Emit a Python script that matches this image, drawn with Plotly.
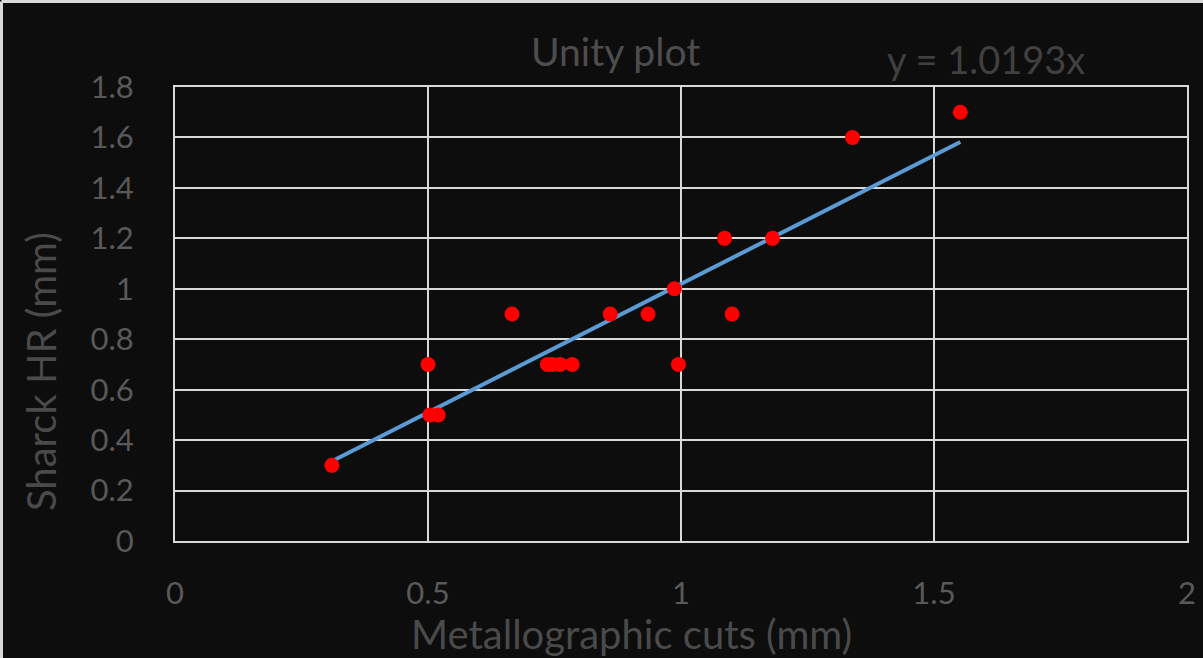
import plotly.graph_objects as go

# Paired thickness measurements (mm)
metallographic = [0.31, 0.50, 0.504, 0.52, 0.666, 0.736, 0.745, 0.761, 0.785,
                  0.860, 0.935, 0.987, 0.995, 1.086, 1.101, 1.181, 1.339, 1.552]
sharck_hr = [0.3, 0.7, 0.5, 0.5, 0.9, 0.7, 0.7, 0.7, 0.7,
             0.9, 0.9, 1.0, 0.7, 1.2, 0.9, 1.2, 1.6, 1.7]

# Zero-intercept linear fit reported on the chart
slope = 1.0193
fit_label = "y = 1.0193x"

x_ticks = [0, 0.5, 1, 1.5, 2]
y_ticks = [0, 0.2, 0.4, 0.6, 0.8, 1, 1.2, 1.4, 1.6, 1.8]

W, H = 1203, 658
ML, MR, MT, MB = 175, 16, 87, 117
PW, PH = W - ML - MR, H - MT - MB


def px(x):
    return (x - ML) / PW


def py(y):
    return (H - MB - y) / PH


bg = "#0d0d0d"
grid = "#d9d9d9"
font_family = "Lato, 'Open Sans', sans-serif"

fit_x = [min(metallographic), max(metallographic)]
fit_y = [slope * v for v in fit_x]

fig = go.Figure()
fig.add_trace(go.Scatter(
    x=fit_x, y=fit_y, mode="lines",
    line=dict(color="#5b9bd5", width=4),
    hoverinfo="skip", showlegend=False,
))
fig.add_trace(go.Scatter(
    x=metallographic, y=sharck_hr, mode="markers",
    marker=dict(color="#ff0000", size=15, line=dict(width=0)),
    showlegend=False,
))

axis_common = dict(
    showgrid=True, gridcolor=grid, gridwidth=2,
    showline=True, linecolor=grid, linewidth=2, mirror=True,
    zeroline=False, ticks="outside", tickcolor="rgba(0,0,0,0)",
    tickfont=dict(family=font_family, size=31, color="#595959"),
    automargin=False,
)

fig.update_xaxes(range=[0, 2], tickvals=x_ticks, ticklen=24, **axis_common)
fig.update_yaxes(range=[0, 1.8], tickvals=y_ticks, ticklen=33,
                 tickformat="~g", **axis_common)

annotations = [
    dict(text="Unity plot", x=px(615), y=py(51), xref="paper", yref="paper",
         showarrow=False, font=dict(family=font_family, size=39, color="#4d4d4d"),
         xanchor="center", yanchor="middle"),
    dict(text=fit_label, x=px(986), y=py(59), xref="paper", yref="paper",
         showarrow=False, font=dict(family=font_family, size=38, color="#404040"),
         xanchor="center", yanchor="middle"),
    dict(text="Metallographic cuts (mm)", x=px(631), y=py(634), xref="paper", yref="paper",
         showarrow=False, font=dict(family=font_family, size=40, color="#4a4a4a"),
         xanchor="center", yanchor="middle"),
    dict(text="Sharck HR (mm)", x=px(41), y=py(372), xref="paper", yref="paper",
         showarrow=False, textangle=-90,
         font=dict(family=font_family, size=40, color="#4a4a4a"),
         xanchor="center", yanchor="middle"),
]

shapes = [
    dict(type="line", xref="paper", yref="paper", x0=px(1.5), x1=px(W), y0=py(1.5), y1=py(1.5),
         line=dict(color="#d9d9d9", width=3)),
    dict(type="line", xref="paper", yref="paper", x0=px(1.5), x1=px(1.5), y0=py(1.5), y1=py(H),
         line=dict(color="#d9d9d9", width=3)),
]

fig.update_layout(
    width=W, height=H,
    margin=dict(l=ML, r=MR, t=MT, b=MB, autoexpand=False),
    paper_bgcolor=bg, plot_bgcolor=bg,
    annotations=annotations, shapes=shapes,
    showlegend=False,
)

fig.write_html("out.html")
